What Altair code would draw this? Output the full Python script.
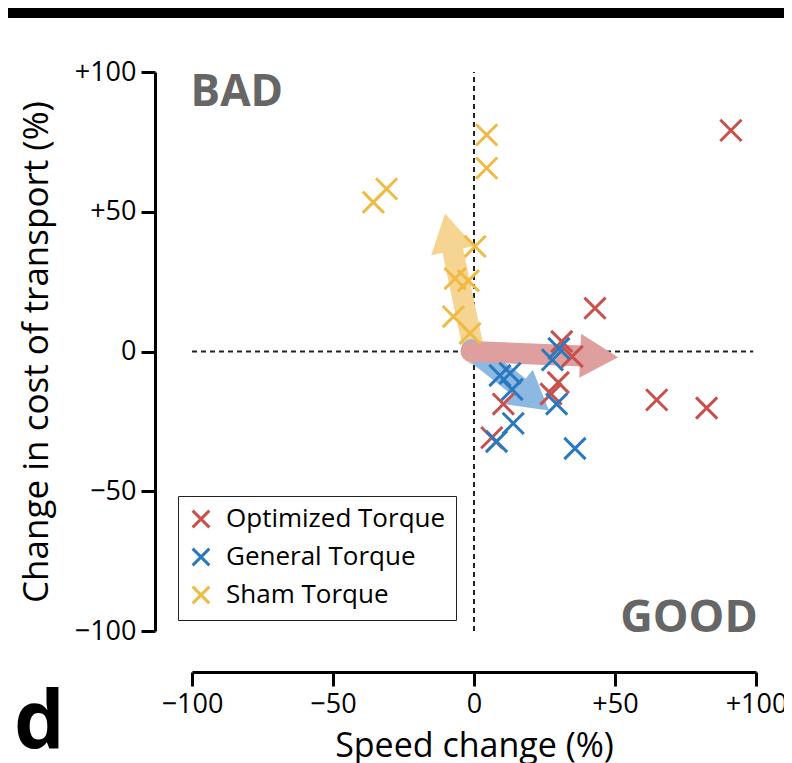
import math
import altair as alt
import pandas as pd

# ---------------- data ----------------
groups = ["Optimized Torque", "General Torque", "Sham Torque"]
point_colors = ["#c8504d", "#2a79bf", "#efba45"]

opt_x = [91.1, 42.9, 31.1, 34.8, 29.9, 27.3, 10.4, 6.3, 64.8, 82.5]
opt_y = [79.1, 15.5, 3.6, -1.8, -11.1, -15.2, -18.8, -30.8, -17.3, -20.2]

gen_x = [9.2, 12.8, 13.5, 27.8, 30.1, 29.3, 13.9, 8.0, 35.8]
gen_y = [-8.6, -7.8, -13.6, -3.0, 1.1, -18.8, -25.7, -32.2, -34.7]

sham_x = [4.5, 4.5, -31.0, -35.7, 0.4, -6.7, -2.0, -7.3, -1.4]
sham_y = [77.5, 65.6, 58.2, 53.4, 37.6, 26.1, 25.3, 12.5, 6.5]

# arrows (drawn in this order: sham, general, optimized on top)
arrow_groups = ["Sham Torque", "General Torque", "Optimized Torque"]
arrow_tip_x = [-10.3, 26.6, 51.1]
arrow_tip_y = [49.4, -21.1, -2.1]
arrow_colors = ["#f6d592", "#8db8e2", "#df9f9f"]

x_ticks = [-100, -50, 0, 50, 100]
y_ticks = [-100, -50, 0, 50, 100]

# ---------------- layout ----------------
W, H = 564, 559
PAD = {"left": 184, "top": 64, "right": 28, "bottom": 132}
FONT = "Open Sans"
X_PATH = "M-1,-1L1,1M-1,1L1,-1"
HEAD_PATH = "M0,0L0.44,0.76L-0.44,0.76Z"
HEAD_SIZE = 10000  # path unit -> 50 px
HEAD_LEN_PX = 0.76 * 50

sx, sy = W / 200.0, H / 200.0

pts = pd.DataFrame({
    "x": opt_x + gen_x + sham_x,
    "y": opt_y + gen_y + sham_y,
    "group": [groups[0]] * len(opt_x) + [groups[1]] * len(gen_x) + [groups[2]] * len(sham_x),
})

rows = []
for g, tx, ty, c in zip(arrow_groups, arrow_tip_x, arrow_tip_y, arrow_colors):
    lpx = math.hypot(tx * sx, ty * sy)
    k = (HEAD_LEN_PX - 3) / lpx
    ang = (math.degrees(math.atan2(tx * sx, ty * sy)) + 360) % 360
    rows.append({"group": g, "x0": -tx * 3 / lpx, "y0": -ty * 3 / lpx,
                 "x1": tx * (1 - k), "y1": ty * (1 - k),
                 "tx": tx, "ty": ty, "angle": ang, "fill": c})
arrows = pd.DataFrame(rows)

xscale = alt.Scale(domain=[-100, 100], nice=False, zero=False)
yscale = alt.Scale(domain=[-100, 100], nice=False, zero=False)

label_expr = "datum.value > 0 ? '+' + datum.label : datum.label"

axis_common = dict(
    grid=False, domainColor="black", domainWidth=3, tickColor="black", tickWidth=3,
    tickSize=14, labelFont=FONT, labelFontSize=27, labelColor="black", labelFlush=False,
    labelOverlap=False, titleFont=FONT, titleFontWeight="normal", titleColor="black",
    labelExpr=label_expr,
)

x_axis = alt.Axis(values=x_ticks, title="Speed change (%)", offset=41, labelPadding=5,
                  titlePadding=12, titleFontSize=34, **axis_common)
y_axis = alt.Axis(values=y_ticks, title="Change in cost of transport (%)", offset=37,
                  labelPadding=5, titlePadding=20, titleFontSize=35, **axis_common)

# dashed zero lines
zero_df = pd.DataFrame({"x": [0, -100], "x2": [0, 99], "y": [-100, 0], "y2": [100, 0]})
zero_lines = alt.Chart(zero_df).mark_rule(color="#222222", strokeDash=[5, 4], strokeWidth=2).encode(
    x=alt.X("x:Q", scale=xscale, axis=x_axis), x2="x2:Q",
    y=alt.Y("y:Q", scale=yscale, axis=y_axis), y2="y2:Q",
)

shafts = alt.Chart(arrows).mark_rule(strokeWidth=21, strokeCap="round", opacity=1).encode(
    x=alt.X("x0:Q", scale=xscale, axis=x_axis), x2="x1:Q",
    y=alt.Y("y0:Q", scale=yscale, axis=y_axis), y2="y1:Q",
    stroke=alt.Stroke("fill:N", scale=None, legend=None),
)

heads = alt.Chart(arrows).mark_point(shape=HEAD_PATH, filled=True, size=HEAD_SIZE, opacity=1,
                                     strokeWidth=0).encode(
    x=alt.X("tx:Q", scale=xscale, axis=x_axis),
    y=alt.Y("ty:Q", scale=yscale, axis=y_axis),
    angle=alt.Angle("angle:Q", scale=None),
    fill=alt.Fill("fill:N", scale=None, legend=None),
)

points = alt.Chart(pts).mark_point(shape=X_PATH, filled=False, strokeWidth=3, size=450,
                                   opacity=1).encode(
    x=alt.X("x:Q", scale=xscale, axis=x_axis),
    y=alt.Y("y:Q", scale=yscale, axis=y_axis),
    color=alt.Color("group:N", scale=alt.Scale(domain=groups, range=point_colors),
                    sort=groups,
                    legend=alt.Legend(title=None, orient="none", legendX=-14, legendY=424,
                                      symbolType=X_PATH, symbolSize=280, symbolStrokeWidth=3,
                                      labelFont=FONT, labelFontSize=26, labelColor="black",
                                      labelLimit=0, rowPadding=8, padding=10, labelOffset=12,
                                      strokeColor="#222222", fillColor="white",
                                      cornerRadius=0)),
)

bad = alt.Chart(alt.Data(values=[{}])).mark_text(
    text="BAD", font=FONT, fontSize=44, fontWeight="bold", color="#666666",
    align="left", baseline="alphabetic").encode(
    x=alt.XDatum(-100.5, scale=xscale, axis=x_axis), y=alt.YDatum(88.0, scale=yscale, axis=y_axis))

good = alt.Chart(alt.Data(values=[{}])).mark_text(
    text="GOOD", font=FONT, fontSize=45, fontWeight="bold", color="#666666",
    align="right", baseline="alphabetic").encode(
    x=alt.XDatum(100.6, scale=xscale, axis=x_axis), y=alt.YDatum(-100.2, scale=yscale, axis=y_axis))

top_bar = alt.Chart(alt.Data(values=[{}])).mark_rect(color="black").encode(
    x=alt.value(-184), x2=alt.value(W + 28), y=alt.value(-64), y2=alt.value(-54))

panel = alt.Chart(alt.Data(values=[{}])).mark_text(
    text="d", font=FONT, fontSize=80, fontWeight="bold", color="black",
    align="left", baseline="alphabetic").encode(
    x=alt.value(-178), y=alt.value(676))

chart = alt.layer(zero_lines, shafts, heads, points, bad, good, top_bar, panel).properties(
    width=W, height=H, padding=PAD, autosize=alt.AutoSizeParams(type="none"),
    background="white",
).configure_view(stroke=None)

chart.save("out.html", embed_options={"renderer": "svg", "actions": False})
